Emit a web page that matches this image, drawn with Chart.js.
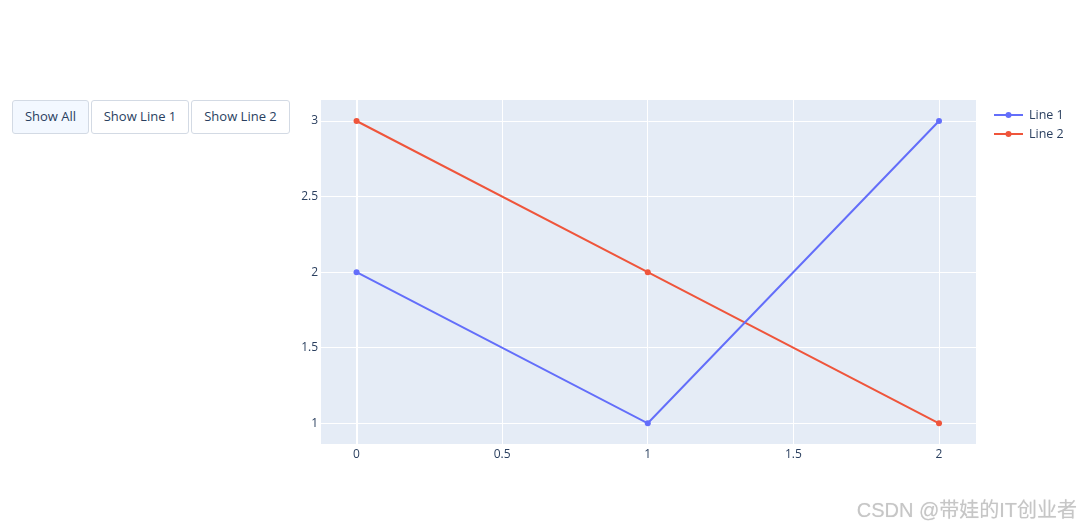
<!DOCTYPE html>
<html>
<head>
<meta charset="utf-8">
<script src="https://cdn.jsdelivr.net/npm/chart.js@4/dist/chart.umd.min.js"></script>
<style>
  html, body { margin: 0; padding: 0; background: #fff; }
  #wrap { position: relative; width: 1082px; height: 525px; overflow: hidden; }
  #myChart { position: absolute; left: 0; top: 0; }
  .btns { position: absolute; left: 12px; top: 100px; display: flex; gap: 2px; }
  .btns button {
    height: 34px; padding: 0 0 3px 0; font: 13px 'Open Sans', sans-serif; color: #2a3f5f;
    background: #fff; border: 1px solid #d3dae4; border-radius: 3px; cursor: pointer;
  }
  .btns button.active { background: #f3f8ff; }
  .mark {
    position: absolute; right: 5px; top: 494px; font: 20px 'Liberation Sans', 'Noto Sans CJK SC', sans-serif;
    color: #c6c6c6; text-shadow: 0 0 1px #e0e0e0; white-space: nowrap;
  }
</style>
</head>
<body>
<div id="wrap">
  <canvas id="myChart" width="1082" height="525"></canvas>
  <div class="btns">
    <button class="active" data-show="all" style="width:77px">Show All</button>
    <button data-show="0" style="width:98px">Show Line 1</button>
    <button data-show="1" style="width:99px">Show Line 2</button>
  </div>
  <div class="mark">CSDN @带娃的IT创业者</div>
</div>
<script>
const xValues = [0, 1, 2];
const line1Values = [2, 1, 3];
const line2Values = [3, 2, 1];
const seriesNames = ['Line 1', 'Line 2'];
const xTicks = [0, 0.5, 1, 1.5, 2];
const yTicks = [1, 1.5, 2, 2.5, 3];

const fontCfg = { family: "'Open Sans', sans-serif", size: 12 };
const textColor = '#2a3f5f';

const plotBg = {
  id: 'plotBg',
  beforeDraw(chart) {
    const { ctx, chartArea: { left, top, right, bottom } } = chart;
    ctx.save();
    ctx.fillStyle = '#E5ECF6';
    ctx.fillRect(left, top, right - left, bottom - top);
    ctx.restore();
  },
};

// legend drawn like plotly's, top right outside the plot
const sideLegend = {
  id: 'sideLegend',
  afterDraw(chart) {
    const { ctx } = chart;
    ctx.save();
    chart.data.datasets.forEach((ds, i) => {
      const y = 115 + i * 19;
      const hidden = !chart.isDatasetVisible(i);
      ctx.globalAlpha = hidden ? 0.5 : 1;
      ctx.strokeStyle = ds.borderColor;
      ctx.lineWidth = 2;
      ctx.beginPath();
      ctx.moveTo(994, y);
      ctx.lineTo(1023, y);
      ctx.stroke();
      ctx.fillStyle = ds.borderColor;
      ctx.beginPath();
      ctx.arc(1008.5, y, 3, 0, Math.PI * 2);
      ctx.fill();
      ctx.fillStyle = textColor;
      ctx.font = "12.5px 'Open Sans', sans-serif";
      ctx.textBaseline = 'middle';
      ctx.fillText(ds.label, 1029, y + 0.5);
    });
    ctx.restore();
  },
};

const toPoints = (vals) => xValues.map((x, i) => ({ x, y: vals[i] }));

const chart = new Chart(document.getElementById('myChart'), {
  type: 'line',
  data: {
    datasets: [
      {
        label: seriesNames[0],
        data: toPoints(line1Values),
        borderColor: '#636EFA',
        backgroundColor: '#636EFA',
        pointBackgroundColor: '#636EFA',
        pointBorderWidth: 0,
        pointRadius: 3,
        borderWidth: 2,
        tension: 0,
      },
      {
        label: seriesNames[1],
        data: toPoints(line2Values),
        borderColor: '#EF553B',
        backgroundColor: '#EF553B',
        pointBackgroundColor: '#EF553B',
        pointBorderWidth: 0,
        pointRadius: 3,
        borderWidth: 2,
        tension: 0,
      },
    ],
  },
  options: {
    responsive: false,
    animation: false,
    layout: { padding: { left: 0, top: 100, right: 106, bottom: 51 } },
    scales: {
      x: {
        type: 'linear',
        min: -0.122,
        max: 2.127,
        afterBuildTicks: (scale) => { scale.ticks = xTicks.map((v) => ({ value: v })); },
        afterFit: (scale) => { scale.height = 30; },
        border: { display: false },
        grid: {
          color: '#ffffff',
          lineWidth: (c) => (c.tick && c.tick.value === 0 ? 2 : 1),
          drawTicks: false,
        },
        ticks: {
          color: textColor, font: fontCfg, padding: 3, maxRotation: 0,
          callback: (value) => String(value),
        },
      },
      y: {
        min: 0.863,
        max: 3.139,
        afterBuildTicks: (scale) => { scale.ticks = yTicks.map((v) => ({ value: v })); },
        afterFit: (scale) => { scale.width = 321; },
        border: { display: false },
        grid: { color: '#ffffff', lineWidth: 1, drawTicks: false },
        ticks: { color: textColor, font: fontCfg, padding: 3, callback: (value) => String(value) },
      },
    },
    plugins: {
      legend: { display: false },
      tooltip: { enabled: true },
    },
  },
  plugins: [plotBg, sideLegend],
});

document.querySelectorAll('.btns button').forEach((btn) => {
  btn.addEventListener('click', () => {
    const which = btn.dataset.show;
    chart.data.datasets.forEach((ds, i) => {
      chart.setDatasetVisibility(i, which === 'all' || Number(which) === i);
    });
    document.querySelectorAll('.btns button').forEach((b) => b.classList.toggle('active', b === btn));
    chart.update();
  });
});
</script>
</body>
</html>
